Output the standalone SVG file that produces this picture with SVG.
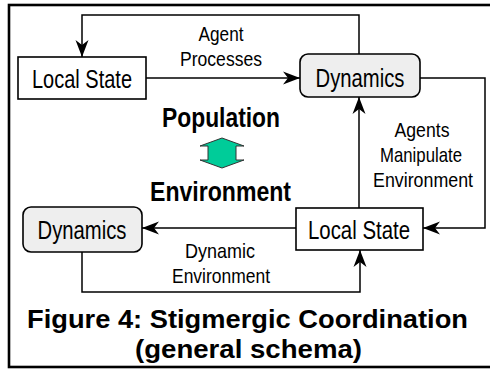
<svg xmlns="http://www.w3.org/2000/svg" width="490" height="371" viewBox="0 0 490 371">
<style>
.box{fill:#ffffff;stroke:#000;stroke-width:1.6}
.dyn{fill:#eeeeee;stroke:#000;stroke-width:1.6}
.lbl{font-family:"Liberation Sans",Arial,sans-serif;font-size:26px;fill:#000;text-anchor:middle}
.cl{font-family:"Liberation Sans",Arial,sans-serif;font-size:21px;fill:#000;text-anchor:middle}
.big{font-family:"Liberation Sans",Arial,sans-serif;font-size:27px;font-weight:bold;fill:#000;text-anchor:middle}
.cap{font-family:"Liberation Sans",Arial,sans-serif;font-size:26px;font-weight:bold;fill:#000;text-anchor:middle}
.conn{fill:none;stroke:#000;stroke-width:1.5}
</style>
<defs>
<marker id="ah" markerUnits="userSpaceOnUse" viewBox="-18 -7 19 14" refX="0" refY="0" markerWidth="19" markerHeight="14" orient="auto">
<path d="M0,0 L-17,-6.5 L-12,0 L-17,6.5 Z" fill="#000"/>
</marker>
</defs>
<rect x="9" y="5" width="490" height="362" fill="#fff" stroke="#000" stroke-width="2.6"/>
<g id="connectors">
<polyline class="conn" points="359,54 359,15 82,15 82,57" marker-end="url(#ah)"/>
<line class="conn" x1="146" y1="78" x2="300" y2="78" marker-end="url(#ah)"/>
<polyline class="conn" points="420,78 485,78 485,228 423,228" marker-end="url(#ah)"/>
<line class="conn" x1="359" y1="208" x2="359" y2="97" marker-end="url(#ah)"/>
<line class="conn" x1="296" y1="228" x2="142" y2="228" marker-end="url(#ah)"/>
<polyline class="conn" points="82,252 82,292 360,292 360,250" marker-end="url(#ah)"/>
<text class="cl" x="221" y="41" textLength="45" lengthAdjust="spacingAndGlyphs">Agent</text>
<text class="cl" x="221" y="66" textLength="82" lengthAdjust="spacingAndGlyphs">Processes</text>
<text class="cl" x="422" y="137" textLength="55" lengthAdjust="spacingAndGlyphs">Agents</text>
<text class="cl" x="421" y="162" textLength="82" lengthAdjust="spacingAndGlyphs">Manipulate</text>
<text class="cl" x="423" y="187" textLength="100" lengthAdjust="spacingAndGlyphs">Environment</text>
<text class="cl" x="220" y="258" textLength="70" lengthAdjust="spacingAndGlyphs">Dynamic</text>
<text class="cl" x="221" y="283" textLength="98" lengthAdjust="spacingAndGlyphs">Environment</text>
</g>
<g id="local-state-top">
<rect class="box" x="18" y="57" width="128" height="42"/>
<text class="lbl" x="82" y="88" textLength="100" lengthAdjust="spacingAndGlyphs">Local State</text>
</g>
<g id="dynamics-top">
<rect class="dyn" x="300" y="54" width="120" height="43" rx="8" ry="8"/>
<text class="lbl" x="360" y="87" textLength="89" lengthAdjust="spacingAndGlyphs">Dynamics</text>
</g>
<g id="local-state-bottom">
<rect class="box" x="296" y="208" width="127" height="42"/>
<text class="lbl" x="359" y="239" textLength="102" lengthAdjust="spacingAndGlyphs">Local State</text>
</g>
<g id="dynamics-bottom">
<rect class="dyn" x="23" y="207" width="119" height="45" rx="8" ry="8"/>
<text class="lbl" x="82" y="239" textLength="89" lengthAdjust="spacingAndGlyphs">Dynamics</text>
</g>
<g id="population">
<text class="big" x="221" y="127" textLength="118" lengthAdjust="spacingAndGlyphs">Population</text>
</g>
<g id="double-arrow">
<path d="M222,138 L244,146 L236,146 L236,160 L244,160 L222,168 L200,160 L208,160 L208,146 L200,146 Z" fill="#00cc99" stroke="#333" stroke-width="1"/>
</g>
<g id="environment">
<text class="big" x="220.5" y="201" textLength="141" lengthAdjust="spacingAndGlyphs">Environment</text>
</g>
<g id="caption">
<text class="cap" x="247.5" y="328" textLength="441" lengthAdjust="spacingAndGlyphs">Figure 4: Stigmergic Coordination</text>
<text class="cap" x="248.5" y="358" textLength="227" lengthAdjust="spacingAndGlyphs">(general schema)</text>
</g>
</svg>
